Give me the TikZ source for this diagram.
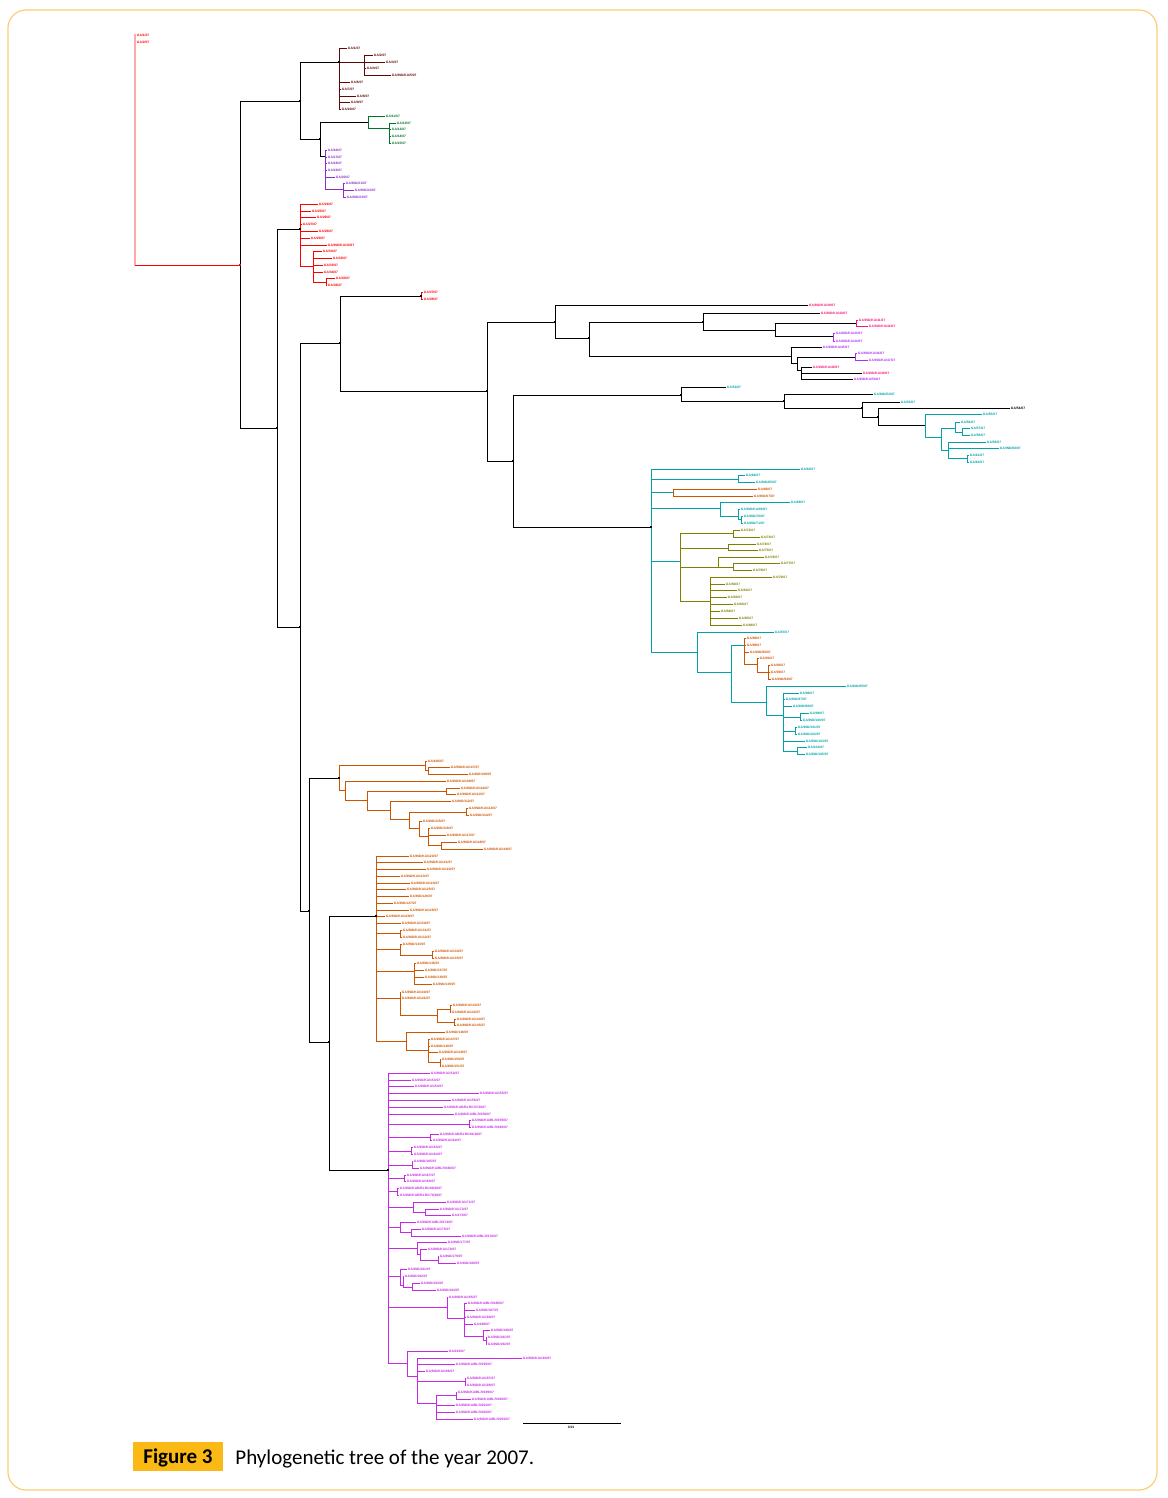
\documentclass[tikz,border=0pt]{standalone}
\usepackage{fontspec}
\setmainfont{Carlito}
\newfontfamily\labfont{Liberation Sans}
\definecolor{cpk}{RGB}{255,170,170}
\definecolor{cred}{RGB}{255,0,0}
\definecolor{cbr}{RGB}{96,8,8}
\definecolor{cgr}{RGB}{0,115,40}
\definecolor{cpu}{RGB}{140,45,200}
\definecolor{cpi}{RGB}{245,20,120}
\definecolor{cvi}{RGB}{175,45,245}
\definecolor{ctl}{RGB}{0,163,168}
\definecolor{col}{RGB}{128,128,0}
\definecolor{cor}{RGB}{205,85,0}
\definecolor{cmg}{RGB}{200,40,230}
\definecolor{cframe}{RGB}{250,205,120}
\definecolor{cfig}{RGB}{250,185,20}
\newcounter{leafc}
\def\lbla{GA/\theleafc/07}
\def\lblb{GA/IND/\theleafc/07}
\def\lblc{GA/IND/KA/\theleafc/07}
\def\lbld{GA/IND/KA/BLR/\theleafc/07}
\def\lble{GA/IND/KAR/BLR/\theleafc/2007}
\newcommand\LT[1]{\csname lbl#1\endcsname}
\tikzset{lab/.style={font=\labfont\bfseries\fontsize{3.3}{4}\selectfont, inner sep=0.5pt, anchor=west}}
\newcommand\hl[4]{\draw[#4] (#1,#3) -- (#2,#3);}
\newcommand\vl[4]{\draw[#4] (#1,#2) -- (#1,#3);}
\newcommand\lf[5]{\stepcounter{leafc}\draw[#5] (#1,#3) -- (#2,#3) node[lab,text=#5] (L\theleafc) {\LT{#4}};}
\newcommand\lfk[5]{\stepcounter{leafc}\draw[black] (#1,#3) -- (#2,#3) node[lab,text=#5] (L\theleafc) {\LT{#4}};}
\newcommand\nm[2]{\fill (#1-1,#2-1) rectangle (#1+1,#2+1);}
\begin{document}
\begin{tikzpicture}[x=1pt,y=-1pt,line width=0.9pt,line cap=rect]
\useasboundingbox (0,0) rectangle (1167,1498);
\draw[cframe, line width=1.2pt, rounded corners=18pt] (8,10) rectangle (1157,1490);
% ---------- outgroup
\draw[cpk,line width=1.2pt] (135,35) -- (135,265);
\node[lab,text=cred] (og1) at (136,35) {GA/1/07};
\node[lab,text=cred] (og2) at (136,42) {GA/2/07};
\hl{135}{240}{265}{cred}
% ---------- upper backbone
\vl{240}{101}{428}{black}
\hl{240}{300}{101}{black}
\vl{300}{62}{139}{black}
\hl{300}{339}{62}{black}
% brown
\vl{339}{48}{109}{cbr}
\lf{339}{347}{48}{a}{cbr}
\hl{339}{364}{62}{cbr}
\vl{364}{55}{75}{cbr}
\lf{364}{373}{55}{a}{cbr}
\lf{364}{385}{62}{a}{cbr}
\lf{364}{366}{68}{a}{cbr}
\lf{364}{391}{75}{c}{cbr}
\lf{339}{350}{82}{a}{cbr}
\lf{339}{341}{89}{a}{cbr}
\lf{339}{356}{96}{a}{cbr}
\lf{339}{350}{102}{a}{cbr}
\lf{339}{341}{109}{a}{cbr}
% green
\hl{300}{320}{139}{black}
\vl{320}{122}{156}{black}
\hl{320}{368}{122}{black}
\vl{368}{116}{128}{cgr}
\lf{368}{385}{116}{a}{cgr}
\hl{368}{389}{128}{cgr}
\vl{389}{123}{143}{cgr}
\lf{389}{396}{123}{a}{cgr}
\lf{389}{391}{129}{a}{cgr}
\lf{389}{391}{136}{a}{cgr}
\lf{389}{391}{143}{a}{cgr}
% purple
\hl{320}{325}{156}{black}
\vl{325}{150}{189}{cpu}
\lf{325}{327}{150}{a}{cpu}
\lf{325}{327}{157}{a}{cpu}
\lf{325}{327}{163}{a}{cpu}
\lf{325}{327}{170}{a}{cpu}
\lf{325}{335}{177}{a}{cpu}
\hl{325}{343}{189}{cpu}
\vl{343}{183}{197}{cpu}
\lf{343}{345}{183}{b}{cpu}
\lf{343}{354}{190}{b}{cpu}
\lf{343}{346}{197}{b}{cpu}
% ---------- lower backbone
\hl{240}{277}{428}{black}
\vl{277}{229}{627}{black}
\hl{277}{300}{229}{black}
% red
\vl{300}{204}{266}{cred}
\lf{300}{318}{204}{a}{cred}
\lf{300}{311}{211}{a}{cred}
\lf{300}{316}{217}{a}{cred}
\lf{300}{302}{224}{a}{cred}
\lf{300}{318}{231}{a}{cred}
\lf{300}{310}{238}{a}{cred}
\lf{300}{327}{245}{c}{cred}
\hl{300}{313}{266}{cred}
\vl{313}{251}{282}{cred}
\lf{313}{322}{251}{a}{cred}
\lf{313}{332}{258}{a}{cred}
\lf{313}{323}{265}{a}{cred}
\lf{313}{323}{272}{a}{cred}
\hl{313}{326}{282}{cred}
\vl{326}{278}{285}{cred}
\lf{326}{335}{278}{a}{cred}
\lf{326}{327}{285}{a}{cred}
% ---------- clade A
\hl{277}{300}{627}{black}
\vl{300}{343}{911}{black}
\hl{300}{340}{343}{black}
\vl{340}{297}{391}{black}
\hl{340}{421}{296}{black}
\vl{421}{292}{299}{cred}
\lf{421}{423}{292}{a}{cred}
\lf{421}{423}{299}{a}{cred}
\hl{340}{487}{391}{black}
\vl{487}{322}{461}{black}
\hl{487}{555}{322}{black}
\vl{555}{305}{338}{black}
\lfk{555}{808}{305}{c}{cpi}
\hl{555}{589}{338}{black}
\vl{589}{322}{356}{black}
\hl{589}{703}{322}{black}
\vl{703}{313}{330}{black}
\lfk{703}{820}{313}{c}{cpi}
\hl{703}{775}{330}{black}
\vl{775}{323}{336}{black}
\hl{775}{856}{323}{black}
\vl{856}{320}{326}{cpi}
\lf{856}{858}{320}{c}{cpi}
\lf{856}{868}{326}{c}{cpi}
\hl{775}{833}{336}{black}
\vl{833}{333}{341}{cvi}
\lf{833}{835}{333}{c}{cvi}
\lf{833}{835}{341}{c}{cvi}
\hl{589}{791}{356}{black}
\vl{791}{347}{363}{black}
\lfk{791}{822}{347}{c}{cvi}
\hl{791}{797}{363}{black}
\vl{797}{357}{370}{black}
\hl{797}{855}{357}{black}
\vl{855}{353}{360}{cvi}
\lf{855}{857}{353}{c}{cvi}
\lf{855}{868}{360}{c}{cvi}
\hl{797}{801}{370}{black}
\vl{801}{367}{379}{black}
\lfk{801}{812}{367}{c}{cpi}
\lfk{801}{862}{373}{c}{cpi}
\lfk{801}{853}{379}{c}{cvi}
% teal upper
\hl{487}{513}{461}{black}
\vl{513}{395}{527}{black}
\hl{513}{681}{395}{black}
\vl{681}{387}{401}{black}
\lfk{681}{726}{387}{a}{ctl}
\hl{681}{784}{401}{black}
\vl{784}{394}{408}{black}
\lfk{784}{873}{394}{b}{ctl}
\hl{784}{862}{408}{black}
\vl{862}{402}{417}{black}
\lfk{862}{900}{402}{a}{ctl}
\hl{862}{878}{417}{black}
\vl{878}{408}{425}{black}
\lf{878}{1010}{408}{a}{black}
\hl{878}{925}{425}{black}
\vl{925}{414}{437}{ctl}
\lf{925}{982}{414}{a}{ctl}
\hl{925}{941}{437}{ctl}
\vl{941}{428}{450}{ctl}
\hl{941}{955}{428}{ctl}
\vl{955}{422}{432}{ctl}
\lf{955}{960}{422}{a}{ctl}
\hl{955}{962}{432}{ctl}
\vl{962}{428}{435}{ctl}
\lf{962}{970}{428}{a}{ctl}
\lf{962}{970}{435}{a}{ctl}
\hl{941}{948}{450}{ctl}
\vl{948}{442}{458}{ctl}
\lf{948}{986}{442}{a}{ctl}
\lf{948}{999}{448}{b}{ctl}
\hl{948}{967}{458}{ctl}
\vl{967}{455}{462}{ctl}
\lf{967}{969}{455}{a}{ctl}
\lf{967}{969}{462}{a}{ctl}
% teal big clade
\hl{513}{651}{527}{black}
\vl{651}{469}{652}{ctl}
\lf{651}{800}{469}{a}{ctl}
\hl{651}{738}{479}{ctl}
\vl{738}{475}{482}{ctl}
\lf{738}{745}{475}{a}{ctl}
\lf{738}{755}{482}{b}{ctl}
\hl{651}{673}{492}{ctl}
\vl{673}{489}{496}{cor}
\lf{673}{757}{489}{a}{cor}
\lf{673}{753}{496}{b}{cor}
\hl{651}{720}{508}{ctl}
\vl{720}{502}{516}{ctl}
\lf{720}{790}{502}{a}{ctl}
\hl{720}{738}{516}{ctl}
\vl{738}{509}{519}{ctl}
\lf{738}{740}{509}{c}{ctl}
\hl{738}{741}{519}{ctl}
\vl{741}{516}{523}{ctl}
\lf{741}{743}{516}{b}{ctl}
\lf{741}{743}{523}{b}{ctl}
% olive
\hl{651}{680}{561}{ctl}
\vl{680}{533}{601}{col}
\hl{680}{733}{533}{col}
\vl{733}{530}{537}{col}
\lf{733}{740}{530}{a}{col}
\lf{733}{760}{537}{a}{col}
\hl{680}{728}{548}{col}
\vl{728}{544}{550}{col}
\lf{728}{756}{544}{a}{col}
\lf{728}{758}{550}{a}{col}
\hl{680}{718}{567}{col}
\vl{718}{557}{567}{col}
\lf{718}{764}{557}{a}{col}
\hl{718}{733}{567}{col}
\vl{733}{563}{570}{col}
\lf{733}{780}{563}{a}{col}
\lf{733}{752}{570}{a}{col}
\hl{680}{710}{601}{col}
\vl{710}{577}{625}{col}
\lf{710}{772}{577}{a}{col}
\lf{710}{725}{584}{a}{col}
\lf{710}{737}{590}{a}{col}
\lf{710}{727}{597}{a}{col}
\lf{710}{733}{604}{a}{col}
\lf{710}{720}{611}{a}{col}
\lf{710}{738}{618}{a}{col}
\lf{710}{742}{625}{a}{col}
% teal lower
\hl{651}{697}{652}{ctl}
\vl{697}{632}{672}{ctl}
\lf{697}{774}{632}{a}{ctl}
\hl{697}{731}{672}{ctl}
\vl{731}{645}{702}{ctl}
\hl{731}{744}{645}{ctl}
\vl{744}{638}{664}{cor}
\lf{744}{746}{638}{a}{cor}
\lf{744}{746}{645}{a}{cor}
\lf{744}{749}{652}{b}{cor}
\hl{744}{757}{664}{cor}
\vl{757}{658}{672}{cor}
\lf{757}{759}{658}{a}{cor}
\hl{757}{768}{672}{cor}
\vl{768}{665}{679}{cor}
\lf{768}{770}{665}{a}{cor}
\lf{768}{770}{672}{a}{cor}
\lf{768}{771}{679}{b}{cor}
\hl{731}{766}{702}{ctl}
\vl{766}{686}{715}{ctl}
\lf{766}{846}{686}{b}{ctl}
\hl{766}{783}{715}{ctl}
\vl{783}{693}{751}{ctl}
\lf{783}{799}{693}{a}{ctl}
\lf{783}{785}{699}{b}{ctl}
\lf{783}{792}{706}{b}{ctl}
\hl{783}{800}{717}{ctl}
\vl{800}{713}{720}{ctl}
\lf{800}{809}{713}{a}{ctl}
\lf{800}{802}{720}{b}{ctl}
\hl{783}{795}{731}{ctl}
\vl{795}{727}{734}{ctl}
\lf{795}{797}{727}{b}{ctl}
\lf{795}{797}{734}{b}{ctl}
\lf{783}{805}{741}{b}{ctl}
\hl{783}{797}{751}{ctl}
\vl{797}{747}{754}{ctl}
\lf{797}{807}{747}{a}{ctl}
\lf{797}{805}{754}{b}{ctl}
% ---------- bottom part
\hl{300}{309}{911}{black}
\vl{309}{778}{1042}{black}
\hl{309}{339}{778}{black}
\vl{339}{765}{790}{cor}
\hl{339}{425}{765}{cor}
\vl{425}{761}{770}{cor}
\lf{425}{427}{761}{a}{cor}
\hl{425}{428}{770}{cor}
\vl{428}{767}{774}{cor}
\lf{428}{450}{767}{c}{cor}
\lf{428}{468}{774}{b}{cor}
\hl{339}{345}{790}{cor}
\vl{345}{781}{800}{cor}
\lf{345}{446}{781}{c}{cor}
\hl{345}{367}{800}{cor}
\vl{367}{791}{810}{cor}
\hl{367}{446}{791}{cor}
\vl{446}{788}{794}{cor}
\lf{446}{460}{788}{c}{cor}
\lf{446}{456}{794}{c}{cor}
\hl{367}{390}{810}{cor}
\vl{390}{801}{819}{cor}
\lf{390}{451}{801}{b}{cor}
\hl{390}{409}{819}{cor}
\vl{409}{812}{828}{cor}
\hl{409}{466}{812}{cor}
\vl{466}{808}{815}{cor}
\lf{466}{468}{808}{c}{cor}
\lf{466}{469}{815}{b}{cor}
\hl{409}{419}{828}{cor}
\vl{419}{821}{836}{cor}
\lf{419}{422}{821}{b}{cor}
\hl{419}{428}{836}{cor}
\vl{428}{828}{845}{cor}
\lf{428}{430}{828}{b}{cor}
\lf{428}{446}{835}{c}{cor}
\hl{428}{441}{845}{cor}
\vl{441}{842}{849}{cor}
\lf{441}{457}{842}{c}{cor}
\lf{441}{483}{849}{c}{cor}
% big orange
\hl{309}{329}{1042}{black}
\vl{329}{916}{1170}{black}
\hl{329}{376}{916}{black}
\vl{376}{856}{1041}{cor}
\lf{376}{409}{856}{c}{cor}
\lf{376}{423}{862}{c}{cor}
\lf{376}{426}{869}{c}{cor}
\lf{376}{400}{876}{c}{cor}
\lf{376}{410}{883}{c}{cor}
\lf{376}{406}{889}{c}{cor}
\lf{376}{409}{896}{b}{cor}
\lf{376}{393}{903}{b}{cor}
\lf{376}{409}{910}{c}{cor}
\lf{376}{385}{916}{c}{cor}
\lf{376}{401}{923}{c}{cor}
\hl{376}{400}{933}{cor}
\vl{400}{930}{937}{cor}
\lf{400}{402}{930}{c}{cor}
\lf{400}{402}{937}{c}{cor}
\hl{376}{400}{949}{cor}
\vl{400}{944}{955}{cor}
\lf{400}{402}{944}{b}{cor}
\hl{400}{432}{955}{cor}
\vl{432}{951}{958}{cor}
\lf{432}{434}{951}{c}{cor}
\lf{432}{434}{958}{c}{cor}
\hl{376}{414}{971}{cor}
\vl{414}{963}{984}{cor}
\lf{414}{416}{963}{b}{cor}
\lf{414}{424}{970}{b}{cor}
\lf{414}{424}{977}{b}{cor}
\lf{414}{432}{984}{b}{cor}
\hl{376}{400}{998}{cor}
\vl{400}{992}{1015}{cor}
\lf{400}{401}{992}{c}{cor}
\lf{400}{401}{998}{c}{cor}
\hl{400}{437}{1015}{cor}
\vl{437}{1009}{1022}{cor}
\hl{437}{450}{1009}{cor}
\vl{450}{1005}{1012}{cor}
\lf{450}{452}{1005}{c}{cor}
\lf{450}{451}{1012}{c}{cor}
\hl{437}{454}{1022}{cor}
\vl{454}{1019}{1025}{cor}
\lf{454}{456}{1019}{c}{cor}
\lf{454}{456}{1025}{c}{cor}
\hl{376}{406}{1041}{cor}
\vl{406}{1032}{1050}{cor}
\lf{406}{445}{1032}{b}{cor}
\hl{406}{428}{1050}{cor}
\vl{428}{1039}{1062}{cor}
\lf{428}{430}{1039}{c}{cor}
\lf{428}{430}{1046}{b}{cor}
\lf{428}{438}{1052}{c}{cor}
\hl{428}{440}{1062}{cor}
\vl{440}{1059}{1066}{cor}
\lf{440}{441}{1059}{b}{cor}
\lf{440}{441}{1066}{b}{cor}
% magenta
\hl{329}{388}{1170}{black}
\vl{388}{1073}{1363}{cmg}
\lf{388}{430}{1073}{c}{cmg}
\lf{388}{411}{1080}{c}{cmg}
\lf{388}{414}{1086}{c}{cmg}
\lf{388}{479}{1093}{c}{cmg}
\lf{388}{451}{1100}{c}{cmg}
\lf{388}{443}{1107}{e}{cmg}
\lf{388}{454}{1114}{d}{cmg}
\hl{388}{469}{1124}{cmg}
\vl{469}{1120}{1127}{cmg}
\lf{469}{471}{1120}{d}{cmg}
\lf{469}{471}{1127}{d}{cmg}
\hl{388}{430}{1137}{cmg}
\vl{430}{1134}{1140}{cmg}
\lf{430}{439}{1134}{e}{cmg}
\lf{430}{432}{1140}{c}{cmg}
\hl{388}{411}{1151}{cmg}
\vl{411}{1147}{1154}{cmg}
\lf{411}{413}{1147}{c}{cmg}
\lf{411}{413}{1154}{c}{cmg}
\hl{388}{412}{1165}{cmg}
\vl{412}{1161}{1168}{cmg}
\lf{412}{413}{1161}{b}{cmg}
\lf{412}{419}{1168}{d}{cmg}
\hl{388}{404}{1178}{cmg}
\vl{404}{1175}{1181}{cmg}
\lf{404}{406}{1175}{c}{cmg}
\lf{404}{406}{1181}{c}{cmg}
\hl{388}{397}{1191}{cmg}
\vl{397}{1188}{1195}{cmg}
\lf{397}{399}{1188}{e}{cmg}
\lf{397}{399}{1195}{e}{cmg}
\hl{388}{413}{1207}{cmg}
\vl{413}{1202}{1212}{cmg}
\lf{413}{446}{1202}{c}{cmg}
\hl{413}{425}{1212}{cmg}
\vl{425}{1209}{1215}{cmg}
\lf{425}{439}{1209}{c}{cmg}
\lf{425}{451}{1215}{a}{cmg}
\hl{388}{400}{1227}{cmg}
\vl{400}{1222}{1232}{cmg}
\lf{400}{416}{1222}{d}{cmg}
\hl{400}{411}{1232}{cmg}
\vl{411}{1229}{1236}{cmg}
\lf{411}{421}{1229}{c}{cmg}
\lf{411}{461}{1236}{d}{cmg}
\hl{388}{417}{1248}{cmg}
\vl{417}{1242}{1254}{cmg}
\lf{417}{447}{1242}{b}{cmg}
\hl{417}{420}{1254}{cmg}
\vl{420}{1249}{1260}{cmg}
\lf{420}{427}{1249}{c}{cmg}
\hl{420}{438}{1260}{cmg}
\vl{438}{1256}{1263}{cmg}
\lf{438}{439}{1256}{b}{cmg}
\lf{438}{456}{1263}{b}{cmg}
\hl{388}{400}{1276}{cmg}
\vl{400}{1269}{1285}{cmg}
\lf{400}{407}{1269}{b}{cmg}
\hl{400}{403}{1285}{cmg}
\vl{403}{1276}{1287}{cmg}
\lf{403}{404}{1276}{b}{cmg}
\hl{403}{412}{1287}{cmg}
\vl{412}{1283}{1290}{cmg}
\lf{412}{420}{1283}{b}{cmg}
\lf{412}{436}{1290}{b}{cmg}
\hl{388}{447}{1307}{cmg}
\vl{447}{1297}{1318}{cmg}
\lf{447}{448}{1297}{c}{cmg}
\hl{447}{464}{1318}{cmg}
\vl{464}{1303}{1336}{cmg}
\lf{464}{467}{1303}{d}{cmg}
\lf{464}{475}{1310}{b}{cmg}
\lf{464}{466}{1317}{c}{cmg}
\lf{464}{473}{1324}{a}{cmg}
\hl{464}{483}{1336}{cmg}
\vl{483}{1330}{1340}{cmg}
\lf{483}{490}{1330}{b}{cmg}
\hl{483}{486}{1340}{cmg}
\vl{486}{1337}{1344}{cmg}
\lf{486}{487}{1337}{b}{cmg}
\lf{486}{487}{1344}{b}{cmg}
\hl{388}{407}{1363}{cmg}
\vl{407}{1351}{1376}{cmg}
\lf{407}{448}{1351}{a}{cmg}
\hl{407}{417}{1376}{cmg}
\vl{417}{1358}{1403}{cmg}
\lf{417}{522}{1358}{c}{cmg}
\lf{417}{455}{1364}{d}{cmg}
\lf{417}{425}{1371}{c}{cmg}
\hl{417}{465}{1381}{cmg}
\vl{465}{1378}{1385}{cmg}
\lf{465}{466}{1378}{c}{cmg}
\lf{465}{466}{1385}{c}{cmg}
\hl{417}{436}{1403}{cmg}
\vl{436}{1395}{1419}{cmg}
\hl{436}{456}{1395}{cmg}
\vl{456}{1392}{1399}{cmg}
\lf{456}{457}{1392}{d}{cmg}
\lf{456}{471}{1399}{d}{cmg}
\lf{436}{455}{1405}{d}{cmg}
\lf{436}{455}{1412}{d}{cmg}
\lf{436}{473}{1419}{d}{cmg}
% ---------- node marks
\fill[cred] (239,264) rectangle (241,266);
\nm{300}{101}\nm{339}{62}\nm{320}{139}\nm{277}{428}\nm{300}{627}
\nm{340}{343}\nm{487}{391}\nm{555}{322}\nm{513}{461}\nm{681}{395}
\nm{651}{527}\nm{309}{911}\nm{329}{1042}\nm{376}{916}\nm{388}{1170}
\nm{339}{778}\nm{300}{229}\nm{421}{296}\nm{589}{338}\nm{703}{322}
\nm{784}{401}\nm{862}{408}\nm{878}{417}
% ---------- scale bar
\coordinate (sb1) at (523,1423);
\coordinate (sb2) at (620,1423);
\draw[black,line width=1pt] (sb1) -- (sb2);
\node[lab,anchor=north] (sbl) at (571,1425) {0.01};
% ---------- caption
\fill[cfig] (133,1442) rectangle (223,1471);
\node[font=\bfseries\fontsize{21}{23}\selectfont, anchor=base] (figlab) at (178,1463.5) {Figure 3};
\node[font=\fontsize{21}{23}\selectfont, anchor=base west, inner sep=0pt] (cap) at (235,1464) {Phylogenetic tree of the year 2007.};
\end{tikzpicture}
\end{document}
